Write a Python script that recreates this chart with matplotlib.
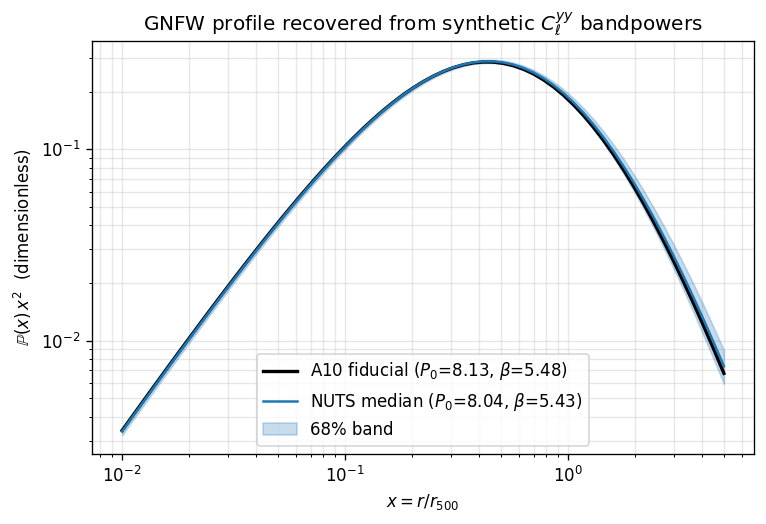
import matplotlib
matplotlib.use("Agg")
import matplotlib.pyplot as plt

# radius x = r / r500
x = [0.01, 0.01109, 0.0123, 0.01364, 0.01513, 0.01678, 0.01862, 0.02065, 0.0229,
     0.0254, 0.02817, 0.03125, 0.03466, 0.03844, 0.04263, 0.04729, 0.05245,
     0.05817, 0.06452, 0.07156, 0.07937, 0.08803, 0.09764, 0.1083, 0.1201,
     0.1332, 0.1478, 0.1639, 0.1818, 0.2016, 0.2236, 0.248, 0.2751, 0.3051,
     0.3384, 0.3753, 0.4163, 0.4617, 0.5121, 0.568, 0.63, 0.6987, 0.775,
     0.8595, 0.9533, 1.057, 1.173, 1.301, 1.443, 1.6, 1.775, 1.968, 2.183,
     2.422, 2.686, 2.979, 3.304, 3.665, 4.064, 4.508, 5.0]

# A10 fiducial profile P(x) x^2
a10 = [0.003384, 0.004002, 0.004733, 0.005591, 0.006603, 0.007791, 0.009192,
       0.01082, 0.01273, 0.01496, 0.01756, 0.02058, 0.02408, 0.02812, 0.03277,
       0.03812, 0.04422, 0.05115, 0.05901, 0.06784, 0.07771, 0.08867, 0.1007,
       0.1139, 0.1281, 0.1432, 0.1592, 0.1757, 0.1925, 0.2092, 0.2255, 0.2409,
       0.2549, 0.2668, 0.2763, 0.2828, 0.2860, 0.2856, 0.2814, 0.2736, 0.2623,
       0.2480, 0.2310, 0.2121, 0.1919, 0.1711, 0.1503, 0.1302, 0.1112, 0.09373,
       0.07791, 0.06402, 0.05192, 0.04159, 0.03299, 0.02589, 0.02012, 0.01549,
       0.01183, 0.008957, 0.006733]

# NUTS posterior median
median = [0.003348, 0.00396, 0.004683, 0.005532, 0.006534, 0.00771, 0.009097,
          0.01071, 0.0126, 0.01481, 0.01739, 0.02038, 0.02385, 0.02786, 0.03247,
          0.03778, 0.04383, 0.05072, 0.05853, 0.06731, 0.07713, 0.08804, 0.1001,
          0.1132, 0.1273, 0.1425, 0.1585, 0.1750, 0.1920, 0.2088, 0.2253, 0.2409,
          0.2552, 0.2675, 0.2774, 0.2843, 0.2880, 0.2881, 0.2844, 0.2771, 0.2662,
          0.2522, 0.2355, 0.2167, 0.1966, 0.1759, 0.1549, 0.1346, 0.1153, 0.09756,
          0.08138, 0.06711, 0.05463, 0.04394, 0.03499, 0.02757, 0.02152, 0.01663,
          0.01276, 0.009705, 0.007329]

# 68% band
band_lo = [0.003197, 0.003783, 0.004474, 0.005288, 0.006247, 0.007374, 0.008704,
           0.01026, 0.01207, 0.01419, 0.01667, 0.01955, 0.02289, 0.02676, 0.0312,
           0.03633, 0.04219, 0.04886, 0.05644, 0.06497, 0.07451, 0.08513, 0.09684,
           0.1097, 0.1235, 0.1383, 0.1540, 0.1703, 0.1870, 0.2036, 0.2199, 0.2354,
           0.2496, 0.2619, 0.2718, 0.2788, 0.2825, 0.2825, 0.2786, 0.2709, 0.2597,
           0.2454, 0.2282, 0.2093, 0.1888, 0.1679, 0.1469, 0.1268, 0.1077, 0.09034,
           0.07456, 0.06084, 0.04892, 0.03886, 0.03054, 0.02373, 0.01826, 0.01391,
           0.01053, 0.007933, 0.005936]
band_hi = [0.003448, 0.004078, 0.004821, 0.005694, 0.006724, 0.007931, 0.009354,
           0.01101, 0.01295, 0.01522, 0.01786, 0.02093, 0.02448, 0.02858, 0.0333,
           0.03873, 0.04492, 0.05194, 0.0599, 0.06885, 0.07885, 0.08995, 0.1022,
           0.1155, 0.1299, 0.1453, 0.1615, 0.1783, 0.1955, 0.2126, 0.2293, 0.2452,
           0.2596, 0.2720, 0.2822, 0.2894, 0.2933, 0.2937, 0.2906, 0.2838, 0.2735,
           0.2600, 0.2439, 0.2255, 0.2057, 0.1851, 0.1641, 0.1435, 0.1239, 0.1057,
           0.08893, 0.07399, 0.06082, 0.04941, 0.03977, 0.03169, 0.02501, 0.01956,
           0.01517, 0.01164, 0.008868]

label_a10 = r"A10 fiducial ($P_0$=8.13, $\beta$=5.48)"
label_med = r"NUTS median ($P_0$=8.04, $\beta$=5.43)"
label_band = "68% band"

DPI = 120
fig = plt.figure(figsize=(766 / DPI, 524 / DPI), dpi=DPI)
ax = fig.add_axes([92/766, 1-454/524, (754-92)/766, (454-41)/524])

ax.plot(x, a10, color="black", lw=2.0, label=label_a10, zorder=3)
ax.plot(x, median, color="#1f77b4", lw=1.5, label=label_med, zorder=4)
ax.fill_between(x, band_lo, band_hi, color="#1f77b4", alpha=0.25,
                label=label_band, zorder=2)

ax.set_xscale("log")
ax.set_yscale("log")
ax.grid(True, which="both", alpha=0.3)
ax.set_xlabel(r"$x = r/r_{500}$")
ax.set_ylabel(r"$\mathbb{P}(x)\,x^2$  (dimensionless)")
ax.set_title(r"GNFW profile recovered from synthetic $C_\ell^{yy}$ bandpowers",
             fontsize=12)
ax.legend(loc="lower center")

fig.savefig("out.png", dpi=DPI)
